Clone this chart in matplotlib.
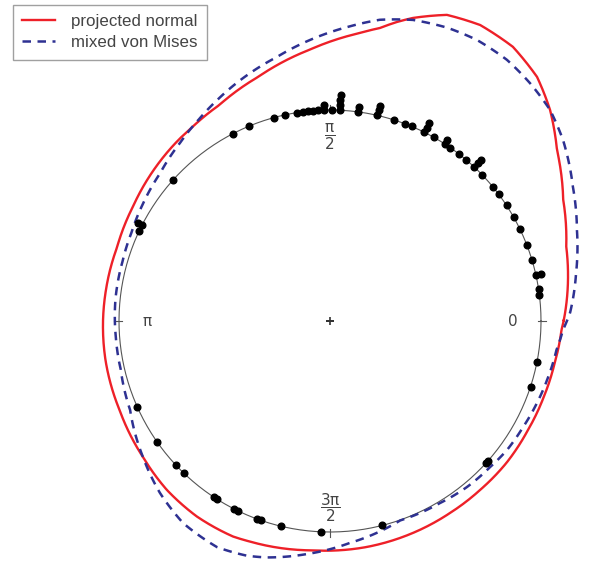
import numpy as np
import matplotlib
matplotlib.use('Agg')
import matplotlib.pyplot as plt

plt.rcParams['mathtext.fontset'] = 'custom'
plt.rcParams['mathtext.rm'] = 'DejaVu Sans'
plt.rcParams['mathtext.it'] = 'DejaVu Sans'

# observed directions in degrees (repeated values are stacked outward)
obs_deg = [7.2, 8.6, 12.5, 12.5, 16.8, 21.1, 26.0, 29.4, 33.2, 36.9, 39.3,
           43.8, 46.9, 46.9, 46.9, 49.7, 52.3, 55.3, 57.1, 57.1, 60.5,
           63.4, 63.4, 63.4, 67.2, 69.2, 72.3, 77.0, 77.0, 77.0, 82.4, 82.4,
           87.3, 87.3, 87.3, 87.3, 89.5, 91.6, 91.6, 93.3, 94.6, 96.0, 97.4,
           99.0, 102.4, 105.5, 112.5, 117.5, 137.9, 152.9, 152.9, 154.9,
           204.1, 215.0, 223.1, 226.1, 236.6, 237.6, 243.0, 244.0, 249.8,
           250.8, 256.7, 267.6, 284.4, 317.6, 318.4, 341.9, 348.8]

# projected normal density, drawn as radius (unit circle = 1)
pn_deg = [0.2, 17.5, 27.5, 37.0, 43.8, 49.7, 56.3, 63.1, 69.1, 74.7, 77.4,
          80.3, 84.1, 94.2, 106.4, 117.2, 125.1, 131.4, 139.5, 149.8, 161.0,
          172.0, 180.5, 189.8, 203.0, 216.0, 226.0, 235.8, 245.8, 250.1,
          265.8, 279.3, 302.0, 311.6, 321.3, 331.0, 340.4, 349.3, 357.8]
pn_rad = [1.108, 1.174, 1.246, 1.347, 1.445, 1.517, 1.562, 1.573, 1.553,
          1.489, 1.452, 1.409, 1.372, 1.290, 1.206, 1.150, 1.128, 1.116,
          1.100, 1.080, 1.068, 1.072, 1.076, 1.080, 1.083, 1.096, 1.113,
          1.121, 1.120, 1.112, 1.090, 1.085, 1.073, 1.071, 1.073, 1.071,
          1.075, 1.083, 1.098]

# mixed von Mises density
vm_deg = [1.9, 11.0, 20.2, 28.9, 37.8, 43.8, 50.0, 55.9, 62.4, 68.2, 74.6,
          80.6, 86.1, 94.1, 101.4, 107.0, 112.0, 117.0, 123.0, 130.0, 139.0,
          148.0, 156.0, 164.0, 174.0, 184.0, 193.0, 204.0, 216.0, 225.3,
          234.0, 243.5, 250.5, 255.0, 264.3, 275.1, 289.4, 301.1, 309.5,
          317.6, 323.9, 331.2, 338.4, 344.8, 352.7, 357.8]
vm_rad = [1.138, 1.188, 1.247, 1.315, 1.398, 1.445, 1.473, 1.495, 1.503,
          1.497, 1.480, 1.447, 1.400, 1.335, 1.276, 1.240, 1.208, 1.176,
          1.140, 1.104, 1.067, 1.046, 1.030, 1.023, 1.022, 1.018, 1.018,
          1.037, 1.096, 1.146, 1.184, 1.198, 1.180, 1.160, 1.110, 1.056,
          1.002, 1.008, 1.020, 1.027, 1.038, 1.044, 1.055, 1.066, 1.082,
          1.105]

fig = plt.figure(figsize=(5.89, 5.64), dpi=100)
W, H = 589, 564
cx, cy, unit = 330, 564 - 321, 211   # circle centre / radius in pixels
rmax = 1.6
half = rmax * unit
ax = fig.add_axes([(cx - half) / W, (cy - half) / H, 2 * half / W, 2 * half / H],
                  projection='polar')
ax.set_rlim(0, rmax)
ax.axis('off')

# unit circle, ticks, centre
th = np.linspace(0, 2 * np.pi, 500)
ax.plot(th, np.ones_like(th), color='#555555', lw=0.8, zorder=2)
for a in [0, np.pi / 2, np.pi, 3 * np.pi / 2]:
    ax.plot([a, a], [0.985, 1.025], color='#555555', lw=0.8, zorder=2)
ax.plot(0, 0, '+', color='#333333', ms=6, mew=1.2)

# stacked data points
counts = {}
pt_t, pt_r = [], []
for a in obs_deg:
    k = counts.get(a, 0)
    counts[a] = k + 1
    pt_t.append(np.deg2rad(a))
    pt_r.append(1 + 0.024 * k)
ax.plot(pt_t, pt_r, 'o', color='black', ms=4.8, mec='black', zorder=3)

# density curves
t_pn = np.deg2rad(pn_deg + [pn_deg[0] + 360])
r_pn = pn_rad + [pn_rad[0]]
t_vm = np.deg2rad(vm_deg + [vm_deg[0] + 360])
r_vm = vm_rad + [vm_rad[0]]
l1, = ax.plot(t_pn, r_pn, color='#ee2028', lw=1.7, label='projected normal')
l2, = ax.plot(t_vm, r_vm, color='#2e3192', lw=1.8, dashes=(3.4, 2.6),
              label='mixed von Mises')
# let the polar transform follow the curve between read points
for ln in (l1, l2):
    ln.get_path()._interpolation_steps = 24

# direction labels
lab = dict(ha='center', va='center', color='#444444', fontsize=11)
ax.text(0, 0.867, '0', **lab)
ax.text(np.pi, 0.867, 'π', **lab)
ax.text(np.pi / 2, 0.87, r'$\dfrac{\pi}{2}$', **lab)
ax.text(3 * np.pi / 2, 0.886, r'$\dfrac{3\pi}{2}$', **lab)

leg = fig.legend(handles=[l1, l2], loc='upper left',
                 bbox_to_anchor=(13 / W, 1 - 5 / H), borderaxespad=0,
                 prop={'family': 'Liberation Sans', 'size': 12.2},
                 frameon=True, fancybox=False, edgecolor='#888888',
                 handlelength=1.9, handletextpad=1.0, borderpad=0.55,
                 labelspacing=0.35)
leg.get_frame().set_linewidth(1.0)
for t in leg.get_texts():
    t.set_color('#444444')

fig.savefig('out.png', dpi=100, facecolor='white')
